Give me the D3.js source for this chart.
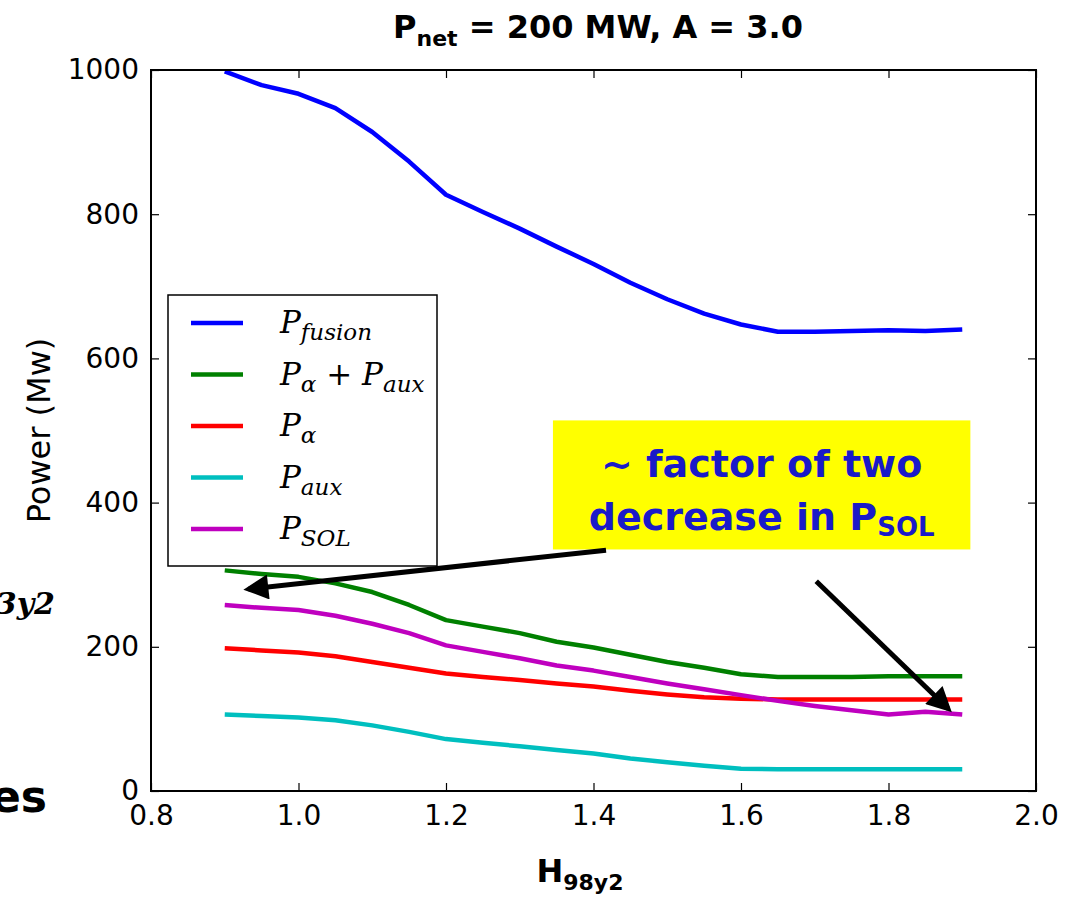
<!DOCTYPE html>
<html>
<head>
<meta charset="utf-8">
<script src="https://cdn.jsdelivr.net/npm/d3@7/dist/d3.min.js"></script>
<style>
  body { margin: 0; background: #fff; }
  svg text { fill: #000; }
</style>
</head>
<body>
<div id="chart"></div>
<script>
// data -----------------------------------
var hValues = [0.9, 0.95, 1.0, 1.05, 1.1, 1.15, 1.2, 1.25, 1.3, 1.35, 1.4, 1.45, 1.5, 1.55, 1.6, 1.65, 1.7, 1.75, 1.8, 1.85, 1.9]
var pFusion = [998, 979, 967, 947, 914, 873, 827, 803, 780, 755, 731, 705, 682, 662, 647, 637, 637, 638, 639, 638, 640]
var pAlphaAux = [306, 301, 297, 288, 276, 258, 237, 228, 219, 207, 199, 189, 179, 171, 162, 158, 158, 158, 159, 159, 159]
var pAlpha = [198, 195, 192, 187, 179, 171, 163, 158, 154, 149, 145, 139, 134, 130, 128, 127, 127, 127, 127, 127, 127]
var pAux = [106, 104, 102, 98, 91, 82, 72, 67, 62, 57, 52, 45, 40, 35, 31, 30, 30, 30, 30, 30, 30]
var pSol = [258, 254, 251, 243, 232, 219, 202, 193, 184, 174, 167, 158, 149, 141, 133, 125, 118, 112, 106, 110, 106]
var xTicks = [0.8, 1.0, 1.2, 1.4, 1.6, 1.8, 2.0]
var yTicks = [0, 200, 400, 600, 800, 1000]

var series = [
  {name: ['P', 'fusion'], values: pFusion, color: '#0000ff'},
  {name: ['P', 'α', ' + P', 'aux'], values: pAlphaAux, color: '#008000'},
  {name: ['P', 'α'], values: pAlpha, color: '#ff0000'},
  {name: ['P', 'aux'], values: pAux, color: '#00bfbf'},
  {name: ['P', 'SOL'], values: pSol, color: '#bf00bf'}
]

var width = 1067
var height = 899
var margin = {top: 70, right: 31, bottom: 108, left: 151}

var svg = d3.select('#chart').append('svg')
  .attr('width', width)
  .attr('height', height)

var x = d3.scaleLinear().domain([0.8, 2.0]).range([margin.left, width - margin.right])
var y = d3.scaleLinear().domain([0, 1000]).range([height - margin.bottom, margin.top])

// 坐标轴
var tickFont = '28px "DejaVu Sans"'
svg.append('g')
  .attr('transform', 'translate(0,' + y(0) + ')')
  .call(d3.axisBottom(x).tickValues(xTicks).tickFormat(d3.format('.1f')).tickSize(-8).tickPadding(14))
  .call(g => g.select('.domain').remove())
  .call(g => g.selectAll('text').style('font', tickFont).attr('fill', '#000'))
svg.append('g')
  .attr('transform', 'translate(0,' + y(1000) + ')')
  .call(d3.axisTop(x).tickValues(xTicks).tickFormat('').tickSize(-8))
  .call(g => g.select('.domain').remove())
svg.append('g')
  .attr('transform', 'translate(' + x(0.8) + ',0)')
  .call(d3.axisLeft(y).tickValues(yTicks).tickFormat(d3.format('d')).tickSize(-8).tickPadding(12))
  .call(g => g.select('.domain').remove())
  .call(g => g.selectAll('text').style('font', tickFont).attr('fill', '#000'))
svg.append('g')
  .attr('transform', 'translate(' + x(2.0) + ',0)')
  .call(d3.axisRight(y).tickValues(yTicks).tickFormat('').tickSize(-8))
  .call(g => g.select('.domain').remove())
svg.selectAll('.tick line').attr('stroke', '#000').attr('stroke-width', 1.2)

// 曲线
var line = d3.line()
  .x(function (d, i) { return x(hValues[i]) })
  .y(function (d) { return y(d) })
svg.append('g').selectAll('path')
  .data(series)
  .enter()
  .append('path')
  .attr('d', function (d) { return line(d.values) })
  .attr('fill', 'none')
  .attr('stroke', function (d) { return d.color })
  .attr('stroke-width', 4.5)
  .attr('stroke-linejoin', 'round')

// frame
svg.append('rect')
  .attr('x', x(0.8))
  .attr('y', y(1000))
  .attr('width', x(2.0) - x(0.8))
  .attr('height', y(0) - y(1000))
  .attr('fill', 'none')
  .attr('stroke', '#000')
  .attr('stroke-width', 2)

// 图例
var legend = svg.append('g').attr('transform', 'translate(168,295)')
legend.append('rect')
  .attr('width', 269)
  .attr('height', 271)
  .attr('fill', '#fff')
  .attr('stroke', '#000')
  .attr('stroke-width', 1.5)
var rows = legend.selectAll('g.row')
  .data(series)
  .enter()
  .append('g')
  .attr('class', 'row')
  .attr('transform', function (d, i) { return 'translate(0,' + (28 + i * 51.5) + ')' })
rows.append('line')
  .attr('x1', 23).attr('x2', 75)
  .attr('stroke', function (d) { return d.color })
  .attr('stroke-width', 4.5)
var lt = rows.append('text')
  .attr('x', 112)
  .attr('y', 10)
  .style('font', 'italic 31px "DejaVu Serif"')
lt.each(function (d) {
  var t = d3.select(this)
  d.name.forEach(function (part, k) {
    var sub = k % 2 === 1
    t.append('tspan')
      .attr('dy', k === 0 ? 0 : (sub ? 7 : -7))
      .style('font-size', sub ? '23px' : '31px')
      .style('font-style', part === ' + P' ? 'normal' : 'italic')
      .text(part === ' + P' ? ' + ' : part)
    if (part === ' + P') {
      t.append('tspan').style('font-size', '31px').text('P')
    }
  })
})

// annotation
var box = {x0: 1.345, x1: 1.911, y0: 335, y1: 514}
svg.append('rect')
  .attr('x', x(box.x0))
  .attr('y', y(box.y1))
  .attr('width', x(box.x1) - x(box.x0))
  .attr('height', y(box.y0) - y(box.y1))
  .attr('fill', '#ffff00')
var annFont = 'bold 38px "DejaVu Sans"'
var cx = (x(box.x0) + x(box.x1)) / 2
svg.append('text')
  .attr('x', cx)
  .attr('y', y(box.y1) + 57)
  .attr('text-anchor', 'middle')
  .style('font', annFont)
  .style('fill', '#1a1ac8')
  .text('~ factor of two')
var ann2 = svg.append('text')
  .attr('x', cx)
  .attr('y', y(box.y1) + 110)
  .attr('text-anchor', 'middle')
  .style('font', annFont)
  .style('fill', '#1a1ac8')
ann2.append('tspan').text('decrease in P')
ann2.append('tspan').attr('dy', 6).style('font-size', '26px').text('SOL')

// 箭头
svg.append('defs').append('marker')
  .attr('id', 'head')
  .attr('viewBox', '0 0 10 10')
  .attr('refX', 8)
  .attr('refY', 5)
  .attr('markerWidth', 5.5)
  .attr('markerHeight', 5)
  .attr('orient', 'auto')
  .append('path')
  .attr('d', 'M0,0 L10,5 L0,10 z')
  .attr('fill', '#000')
var arrows = [
  {from: [1.417, 334], to: [0.932, 280]},
  {from: [1.702, 291], to: [1.881, 114]}
]
svg.append('g').selectAll('line')
  .data(arrows)
  .enter()
  .append('line')
  .attr('x1', function (d) { return x(d.from[0]) })
  .attr('y1', function (d) { return y(d.from[1]) })
  .attr('x2', function (d) { return x(d.to[0]) })
  .attr('y2', function (d) { return y(d.to[1]) })
  .attr('stroke', '#000')
  .attr('stroke-width', 5)
  .attr('marker-end', 'url(#head)')

// titles
var title = svg.append('text')
  .attr('x', 598)
  .attr('y', 38)
  .attr('text-anchor', 'middle')
  .style('font', 'bold 32px "DejaVu Sans"')
title.append('tspan').text('P')
title.append('tspan').attr('dy', 8).style('font-size', '22px').text('net')
title.append('tspan').attr('dy', -8).text('  = 200 MW, A = 3.0')

var xl = svg.append('text')
  .attr('x', 580)
  .attr('y', 882)
  .attr('text-anchor', 'middle')
  .style('font', 'bold 32px "DejaVu Sans"')
xl.append('tspan').text('H')
xl.append('tspan').attr('dy', 8).style('font-size', '22px').text('98y2')

svg.append('text')
  .attr('transform', 'translate(50,' + ((y(0) + y(1000)) / 2) + ') rotate(-90)')
  .attr('text-anchor', 'middle')
  .style('font', '32px "DejaVu Sans"')
  .text('Power (Mw)')

// 左侧残字
svg.append('text')
  .attr('x', 55)
  .attr('y', 614)
  .attr('text-anchor', 'end')
  .style('font', 'bold italic 30px "DejaVu Serif"')
  .text('3y2')
svg.append('text')
  .attr('x', 47)
  .attr('y', 812)
  .attr('text-anchor', 'end')
  .style('font', 'bold 44px "DejaVu Sans"')
  .text('es')
</script>
</body>
</html>
